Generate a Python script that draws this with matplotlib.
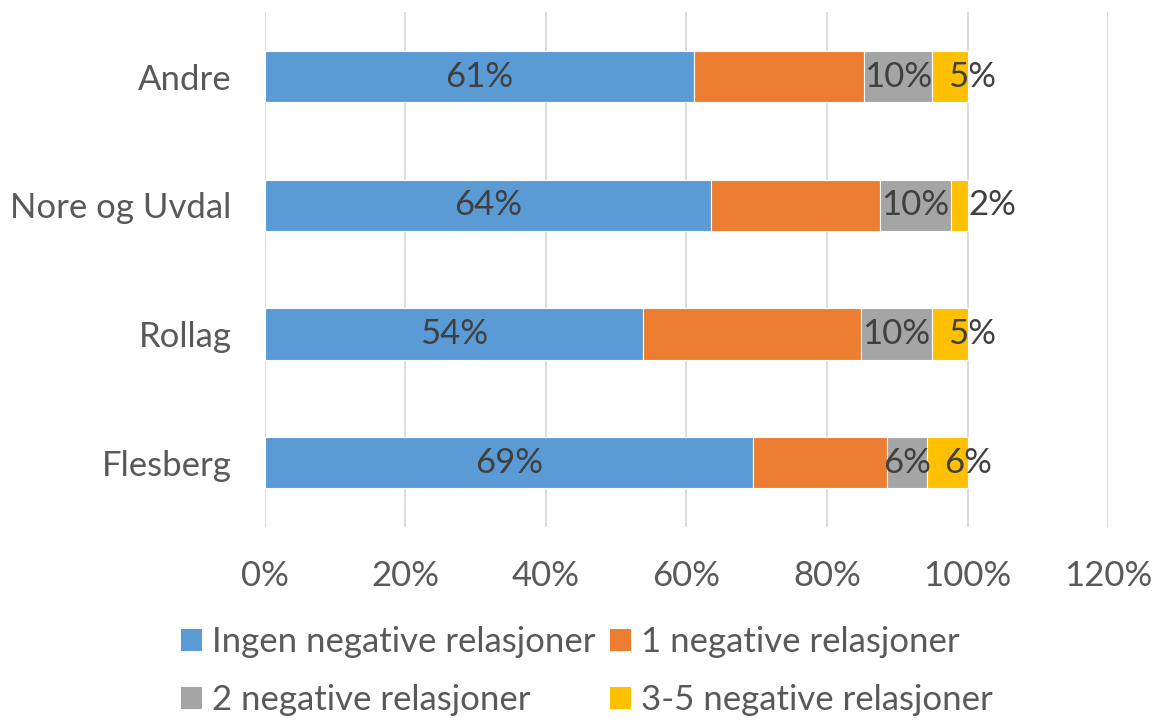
import matplotlib

matplotlib.use("Agg")
import matplotlib.pyplot as plt
from matplotlib.patches import Patch

# Data (shares, bottom-to-top order)
CATEGORIES = ["Flesberg", "Rollag", "Nore og Uvdal", "Andre"]
INGEN = [0.694, 0.538, 0.635, 0.610]
EN = [0.192, 0.310, 0.240, 0.243]
TO = [0.057, 0.101, 0.102, 0.096]
TRE_FEM = [0.057, 0.051, 0.023, 0.051]
SERIES_NAMES = [
    "Ingen negative relasjoner",
    "1 negative relasjoner",
    "2 negative relasjoner",
    "3-5 negative relasjoner",
]
XTICKS = [0, 0.2, 0.4, 0.6, 0.8, 1.0, 1.2]

COLORS = ["#5B9BD5", "#ED7D31", "#A5A5A5", "#FFC000"]
LABELLED = [True, False, True, True]
TEXT = "#595959"
LABEL_TEXT = "#404040"
FS = 25

plt.rcParams.update({
    "font.family": ["Lato", "DejaVu Sans"],
    "font.size": FS,
})

fig = plt.figure(figsize=(11.53, 7.22), dpi=100)
ax = fig.add_axes([0.2298, 0.270, 0.7312, 0.713])

ys = list(range(len(CATEGORIES)))
left = [0.0] * len(CATEGORIES)
series = [INGEN, EN, TO, TRE_FEM]
for i, (vals, color, name, lab) in enumerate(zip(series, COLORS, SERIES_NAMES, LABELLED)):
    ax.barh(ys, vals, left=left, height=0.4, color=color,
            edgecolor="white", linewidth=0.8, label=name, zorder=3)
    if lab:
        for y, l, v in zip(ys, left, vals):
            txt = f"{v * 100:.0f}%"
            if i == len(series) - 1:
                # last (thin) segment: label starts just inside and spills out
                ax.annotate(txt, (l, y), xytext=(12, 0), textcoords="offset points",
                            ha="left", va="center", color=LABEL_TEXT, fontsize=FS, zorder=4)
            else:
                ax.text(l + v / 2, y, txt, ha="center", va="center",
                        color=LABEL_TEXT, fontsize=FS, zorder=4)
    left = [a + b for a, b in zip(left, vals)]

ax.set_xlim(0, 1.2)
ax.set_ylim(-0.5, 3.5)
ax.set_xticks(XTICKS)
ax.set_xticklabels([f"{t * 100:.0f}%" for t in XTICKS])
ax.set_yticks(ys)
ax.set_yticklabels(CATEGORIES)
ax.tick_params(axis="both", length=0, colors=TEXT, labelsize=FS)
ax.tick_params(axis="x", pad=24)
ax.tick_params(axis="y", pad=24)
ax.grid(axis="x", color="#D9D9D9", linewidth=1.3, zorder=0)
for s in ax.spines.values():
    s.set_visible(False)

# legend fills column-wise; reorder so rows read like the original
handles = [Patch(facecolor=c) for c in COLORS]
order = [0, 2, 1, 3]
fig.legend([handles[k] for k in order], [SERIES_NAMES[k] for k in order],
           loc="upper left", bbox_to_anchor=(0.145, 0.152),
           ncol=2, frameon=False, fontsize=FS, labelcolor=TEXT,
           handlelength=0.6, handleheight=0.6, handletextpad=0.3,
           columnspacing=0.4, labelspacing=0.75, borderaxespad=0)

fig.savefig("out.png", dpi=100)
